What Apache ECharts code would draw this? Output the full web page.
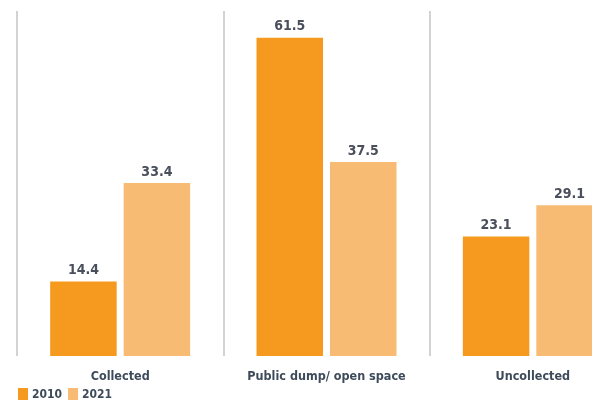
<!DOCTYPE html>
<html><head><meta charset="utf-8">
<script src="https://cdn.jsdelivr.net/npm/echarts@6/dist/echarts.min.js"></script>
<style>html,body{margin:0;padding:0;background:#fff}#c{width:592px;height:400px}</style>
</head><body><div id="c"></div>
<script>
const categories = ['Collected', 'Public dump/ open space', 'Uncollected'];
const values2010 = [14.4, 61.5, 23.1];
const values2021 = [33.4, 37.5, 29.1];
const seriesNames = ['2010', '2021'];

const FONT = '"Liberation Sans Narrow", "DejaVu Sans Condensed", sans-serif';
const chart = echarts.init(document.getElementById('c'));
const labelStyle = {show: true, position: 'top', distance: 4, fontFamily: FONT, fontWeight: 'bold', fontSize: 14, color: '#4a4f5c'};
chart.setOption({
  animation: false,
  grid: {left: 17, width: 619, top: 11, bottom: 44, containLabel: false, outerBoundsMode: 'none'},
  legend: {
    left: 13, top: 383, itemWidth: 10, itemHeight: 14, itemGap: 6,
    icon: 'rect',
    textStyle: {fontFamily: FONT, fontWeight: 'bold', fontSize: 12, color: '#3d4a5a', padding: [0,0,0,-1]},
    data: seriesNames
  },
  xAxis: {
    type: 'category', data: categories,
    axisLine: {show: false}, axisTick: {show: false},
    splitLine: {show: true, lineStyle: {color: '#c4c4c4', width: 1.5}},
    axisLabel: {interval: 0, margin: 14, fontFamily: FONT, fontWeight: 'bold', fontSize: 12.5, color: '#3d4a5a'}
  },
  yAxis: {type: 'value', min: 0, max: 66.65, show: false, splitLine: {show: false}},
  series: [
    {name: seriesNames[0], type: 'bar', data: values2010, barWidth: 66.5, barGap: '10.5%',
     itemStyle: {color: '#F59A1F'}, label: labelStyle},
    {name: seriesNames[1], type: 'bar', data: values2021, barWidth: 66.5,
     itemStyle: {color: '#F8BB73'}, label: labelStyle}
  ]
});
</script></body></html>
